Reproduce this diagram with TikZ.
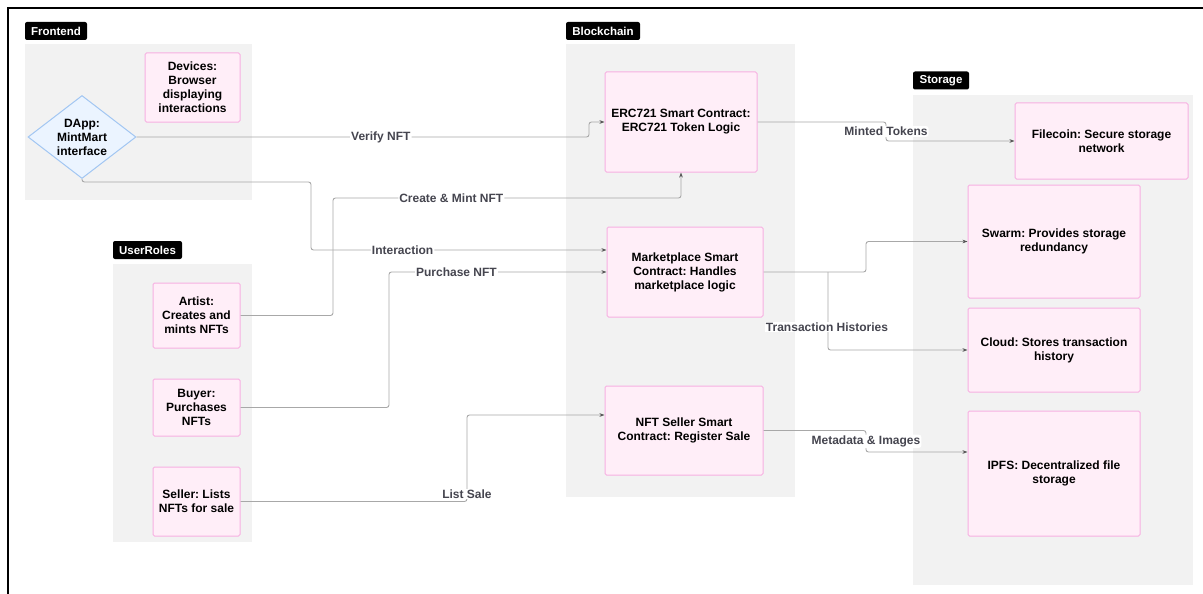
\documentclass[tikz,border=0pt]{standalone}
\usepackage{fontspec}
\setmainfont{Liberation Sans}
\usetikzlibrary{shapes.geometric,arrows.meta,calc}
\definecolor{pinkfill}{HTML}{FFEEF8}
\definecolor{pinkdraw}{HTML}{F7B0E2}
\definecolor{bluefill}{HTML}{EBF4FF}
\definecolor{bluedraw}{HTML}{A2C6F2}
\definecolor{grpfill}{HTML}{F2F2F2}
\definecolor{linecol}{HTML}{A8A8A8}
\definecolor{lblcol}{HTML}{45454F}
\definecolor{tipcol}{HTML}{555555}
\frenchspacing
\tikzset{
  pbox/.style={draw=pinkdraw, fill=pinkfill, line width=1pt, rounded corners=1.5pt,
    align=center, inner sep=2pt, font=\bfseries\fontsize{12}{14}\selectfont, text=black},
  grp/.style={fill=grpfill, draw=none, inner sep=0pt},
  glabel/.style={fill=black, rounded corners=2pt, text=white, inner sep=0pt, minimum height=18,
    font=\bfseries\fontsize{11.5}{12}\selectfont},
  conn/.style={draw=linecol, line width=0.9pt, rounded corners=2.5pt,
    -{Stealth[length=5pt,width=3.6pt,color=tipcol]}},
  lbl/.style={fill=white, inner sep=1pt, text=lblcol, font=\bfseries\fontsize{12}{13}\selectfont},
}
\begin{document}
\begin{tikzpicture}[x=1pt,y=-1pt]
\useasboundingbox (0,0) rectangle (1203,594);
\draw[line width=2pt] (8,594) -- (8,8) -- (1203,8);

% groups
\node[grp, minimum width=227, minimum height=156] (frontbg) at (138.5,122) {};
\node[grp, minimum width=139, minimum height=278] (userbg) at (182.5,403) {};
\node[grp, minimum width=229, minimum height=453] (chainbg) at (680.5,270.5) {};
\node[grp, minimum width=280, minimum height=490] (storebg) at (1053,340) {};

\node[glabel, minimum width=62] (frontlbl) at (56,31) {Frontend};
\node[glabel, minimum width=69] (userlbl) at (147.5,250) {UserRoles};
\node[glabel, minimum width=74] (chainlbl) at (603,31) {Blockchain};
\node[glabel, minimum width=56] (storelbl) at (941,80.5) {Storage};

% frontend
\node[pbox, minimum width=95, minimum height=69] (devices) at (192.5,87.5) {Devices:\\Browser\\displaying\\interactions};
\node[diamond, draw=bluedraw, fill=bluefill, line width=1pt, minimum width=108, minimum height=83, inner sep=0pt] (dapp) at (82,137) {};
\node[align=center, font=\bfseries\fontsize{12}{14}\selectfont] (dapptext) at (dapp.center) {DApp:\\MintMart\\interface};

% user roles
\node[pbox, minimum width=87, minimum height=65] (artist) at (196.5,315.5) {Artist:\\Creates and\\mints NFTs};
\node[pbox, minimum width=87, minimum height=57] (buyer) at (196.5,407.5) {Buyer:\\Purchases\\NFTs};
\node[pbox, minimum width=87, minimum height=69] (seller) at (196.5,501.5) {Seller: Lists\\NFTs for sale};

% blockchain
\node[pbox, minimum width=152, minimum height=100] (erc) at (681,122) {ERC721 Smart Contract:\\ERC721 Token Logic};
\node[pbox, minimum width=156, minimum height=90] (market) at (685,272) {Marketplace Smart\\Contract: Handles\\marketplace logic};
\node[pbox, minimum width=158, minimum height=89] (sellc) at (684,430.5) {NFT Seller Smart\\Contract: Register Sale};

% storage
\node[pbox, minimum width=173, minimum height=76] (filecoin) at (1101.5,141) {Filecoin: Secure storage\\network};
\node[pbox, minimum width=172, minimum height=113] (swarm) at (1054,241.5) {Swarm: Provides storage\\redundancy};
\node[pbox, minimum width=172, minimum height=84] (cloud) at (1054,350) {Cloud: Stores transaction\\history};
\node[pbox, minimum width=172, minimum height=125] (ipfs) at (1054,473.5) {IPFS: Decentralized file\\storage};

% connectors
\draw[conn] (dapp.east) -- node[lbl, pos=0.54] {Verify NFT} (589,137) -- (589,122) -- (erc.west);
\draw[conn] (dapp.south) -- (82,182) -- (311,182) -- (311,250) -- node[lbl, pos=0.31] {Interaction} ($(market.west)+(0,-22)$);
\draw[conn] (artist.east) -- (333,315.5) -- (333,198) -- node[lbl, pos=0.34] {Create \& Mint NFT} (681,198) -- (erc.south);
\draw[conn] (buyer.east) -- (389,407.5) -- (389,272) -- node[lbl, pos=0.31] {Purchase NFT} (market.west);
\draw[conn] (seller.east) -- (467,501.5) -- (467,415) -- ($(sellc.west)+(0,-15.5)$);
\node[lbl] (listlbl) at (467,494) {List Sale};
\draw[conn] (erc.east) -- (886,122) -- node[lbl, pos=0.5] {Minted Tokens} (886,141) -- (filecoin.west);
\draw[conn] (market.east) -- (866,272) -- (866,241.5) -- (swarm.west);
\draw[conn] (828,272) -- (828,350) -- (cloud.west);
\node[lbl] (txlbl) at (827,327) {Transaction Histories};
\draw[conn] (sellc.east) -- (866,430.5) -- node[lbl, pos=0.5] {Metadata \& Images} (866,452) -- ($(ipfs.west)+(0,-21.5)$);
\end{tikzpicture}
\end{document}
